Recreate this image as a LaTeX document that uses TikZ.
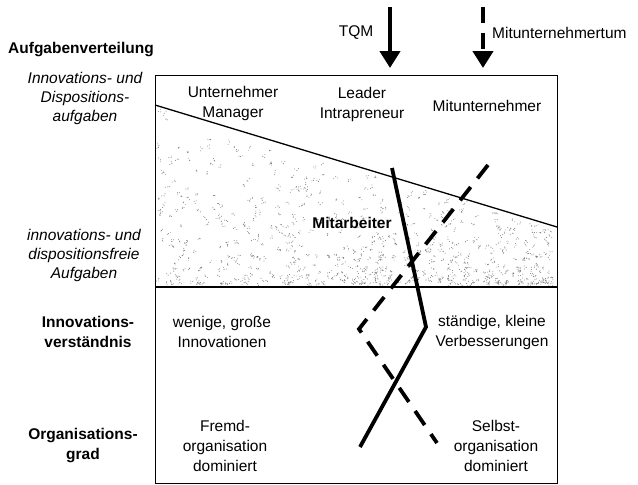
\documentclass[tikz,border=0pt]{standalone}
\usepackage{fontspec}
\setmainfont{Liberation Sans}
\usetikzlibrary{arrows.meta}
\begin{document}
\begin{tikzpicture}[x=1pt,y=-1pt,
  lbl/.style={font=\fontsize{15.5}{20}\selectfont, align=center, inner sep=0pt},
  hd/.style={lbl, font=\fontsize{15.5}{20}\selectfont\bfseries},
  itl/.style={lbl, font=\fontsize{15.5}{19}\selectfont\itshape},
  speck/.style={fill=black!50},
  frame/.style={line width=1pt},
  thickarrow/.style={line width=4.5pt, -{Triangle[width=20pt,length=17pt]}},
  dasharrow/.style={thickarrow, dash pattern=on 16pt off 10pt},
  solidpath/.style={line width=3.8pt, line join=miter},
  dashpath/.style={line width=3.8pt, dash pattern=on 17pt off 11pt}]
\useasboundingbox (0,0) rectangle (638,485);

% stippled band below the diagonal: small clusters of dots, denser towards the divider
\pgfmathsetseed{11}
\foreach \i in {1,...,650}{
  \pgfmathsetmacro{\px}{158+396*rnd}
  \pgfmathsetmacro{\sy}{109+0.305*(\px-155)}
  \pgfmathsetmacro{\py}{284-(284-\sy)*pow(rnd,1.8)}
  \pgfmathsetmacro{\ax}{\px+2.4*rand}
  \pgfmathsetmacro{\ay}{\py+2.4*rand}
  \pgfmathsetmacro{\bx}{\px+2.4*rand}
  \pgfmathsetmacro{\by}{\py+2.4*rand}
  \fill[speck] (\px,\py) circle[radius=0.55pt] (\ax,\ay) circle[radius=0.5pt]
                (\bx,\by) circle[radius=0.45pt];
}

% frame, diagonal and divider
\coordinate (tl) at (155,75);
\coordinate (br) at (557,483);
\coordinate (dl) at (155,105);
\coordinate (dr) at (557,227);
\coordinate (ml) at (155,287);
\coordinate (mr) at (557,287);
\draw[frame] (tl) rectangle (br);
\draw[line width=1.3pt] (dl) -- (dr);
\draw[line width=1.7pt] (ml) -- (mr);

% TQM and co-entrepreneurship paths
\coordinate (s1) at (392,168);
\coordinate (s2) at (426,327);
\coordinate (s3) at (360,447);
\coordinate (d1) at (488,165);
\coordinate (d2) at (359,329);
\coordinate (d3) at (437,443);
\draw[solidpath] (s1) -- (s2) -- (s3);
\draw[dashpath] (d1) -- (d2) -- (d3);

% incoming arrows
\coordinate (ta) at (390,7);
\coordinate (tb) at (390,68);
\coordinate (ma) at (483,7);
\coordinate (mb) at (483,68);
\draw[thickarrow] (ta) -- (tb);
\draw[dasharrow] (ma) -- (mb);
\node[lbl] (tqm) at (356,33) {TQM};
\node[lbl, anchor=west] (mut) at (492,33) {Mitunternehmertum};

% row headings on the left
\node[hd, anchor=west] (auf) at (8,50) {Aufgabenverteilung};
\node[itl] (idA) at (85,98) {Innovations- und\\Dispositions-\\aufgaben};
\node[itl] (idF) at (84,255) {innovations- und\\dispositionsfreie\\Aufgaben};
\node[hd] (inv) at (88,332) {Innovations-\\verständnis};
\node[hd] (org) at (83,446) {Organisations-\\grad};

% entries inside the frame
\node[lbl] (um) at (233,103) {Unternehmer\\Manager};
\node[lbl] (li) at (362,104) {Leader\\Intrapreneur};
\node[lbl] (mu) at (487,106) {Mitunternehmer};
\node[hd] (mit) at (352,223) {Mitarbeiter};
\node[lbl] (wg) at (222,332) {wenige, große\\Innovationen};
\node[lbl] (sk) at (492,332) {ständige, kleine\\Verbesserungen};
\node[lbl] (fo) at (225,446) {Fremd-\\organisation\\dominiert};
\node[lbl] (so) at (496,446) {Selbst-\\organisation\\dominiert};
\end{tikzpicture}
\end{document}
